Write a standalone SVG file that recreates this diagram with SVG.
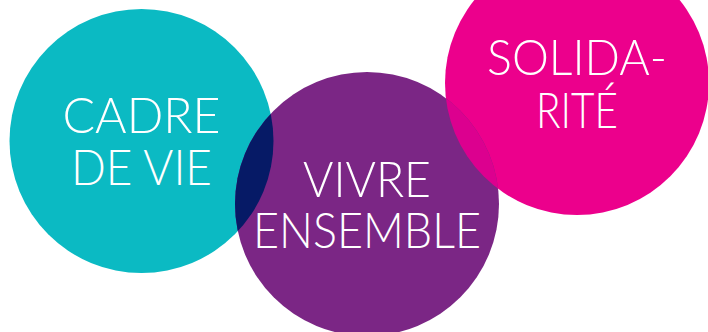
<svg xmlns="http://www.w3.org/2000/svg" width="708" height="332" viewBox="0 0 708 332">
<style>
.lbl{font-family:"Lato","Open Sans","Liberation Sans",sans-serif;font-weight:300;font-size:50px;fill:#ffffff;text-anchor:middle}
</style>
<defs>
<clipPath id="clipTeal"><circle cx="141.5" cy="141" r="132"/></clipPath>
<clipPath id="clipMag"><circle cx="577" cy="83" r="132"/></clipPath>
</defs>
<rect width="708" height="332" fill="#ffffff"/>
<g id="cadre-de-vie">
<circle cx="141.5" cy="141" r="132" fill="#0bbac3"/>
</g>
<g id="solidarite">
<circle cx="577" cy="83" r="132" fill="#ec008c"/>
</g>
<g id="vivre-ensemble">
<circle cx="367" cy="204" r="132" fill="#7b2685"/>
<circle cx="367" cy="204" r="132" fill="#061a66" clip-path="url(#clipTeal)"/>
<circle cx="367" cy="204" r="132" fill="#dc008f" clip-path="url(#clipMag)"/>
</g>
<g id="labels">
<text class="lbl"><tspan x="141.5" y="133" textLength="158" lengthAdjust="spacingAndGlyphs">CADRE</tspan><tspan x="141.5" y="185" textLength="141" lengthAdjust="spacingAndGlyphs">DE VIE</tspan></text>
<text class="lbl"><tspan x="367" y="197" textLength="128" lengthAdjust="spacingAndGlyphs">VIVRE</tspan><tspan x="367" y="248" textLength="228" lengthAdjust="spacingAndGlyphs">ENSEMBLE</tspan></text>
<text class="lbl"><tspan x="577" y="75" textLength="180" lengthAdjust="spacingAndGlyphs">SOLIDA-</tspan><tspan x="577" y="128" textLength="82" lengthAdjust="spacingAndGlyphs">RITÉ</tspan></text>
</g>
</svg>
